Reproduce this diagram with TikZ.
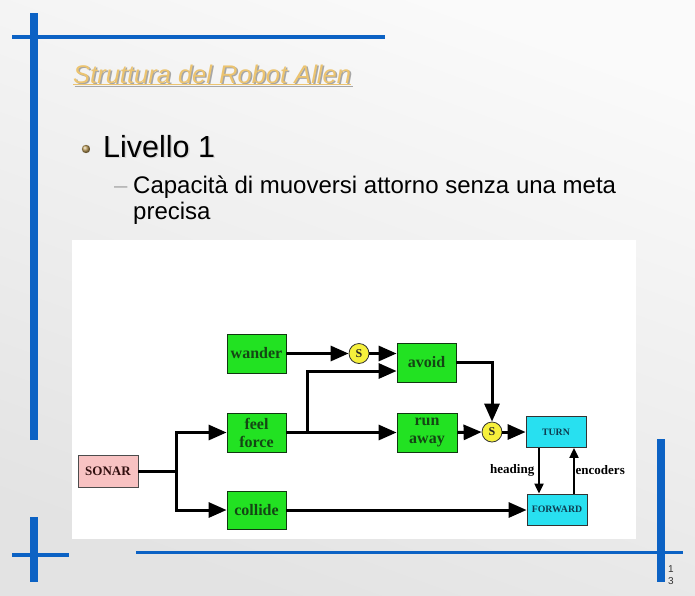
\documentclass[tikz,border=0pt]{standalone}
\usepackage{fontspec}
\setmainfont{Liberation Serif}
\newfontfamily\arialf{Liberation Sans}
\usetikzlibrary{arrows.meta,shadings}
\definecolor{slideblue}{RGB}{12,98,196}
\definecolor{titlegold}{RGB}{236,196,112}
\definecolor{boxgreen}{RGB}{34,226,34}
\definecolor{greentext}{RGB}{20,70,20}
\definecolor{boxcyan}{RGB}{40,224,240}
\definecolor{cyantext}{RGB}{14,60,80}
\definecolor{sonarpink}{RGB}{248,194,194}
\definecolor{sonartext}{RGB}{50,16,16}
\definecolor{sumyellow}{RGB}{246,240,60}
\tikzset{
  gbox/.style={draw=greentext!80!black, line width=0.8pt, fill=boxgreen, text=greentext,
    minimum width=59pt, minimum height=39pt, inner sep=0pt, align=center,
    font=\fontsize{16}{18}\selectfont\bfseries},
  cbox/.style={draw=black!80, line width=0.8pt, fill=boxcyan, text=cyantext,
    minimum width=60pt, minimum height=31pt, inner sep=0pt,
    font=\fontsize{9.8}{11}\selectfont\bfseries},
  sbox/.style={draw=black!70, line width=0.8pt, fill=sonarpink, text=sonartext,
    minimum width=60pt, minimum height=32pt, inner sep=0pt,
    font=\fontsize{13}{14}\selectfont\bfseries},
  sumnode/.style={circle, draw=black!80, line width=0.8pt, fill=sumyellow, text=black!85,
    minimum size=20pt, inner sep=0pt, font=\fontsize{12}{13}\selectfont\bfseries},
  arr/.style={line width=3pt, line join=miter, -{Triangle[length=18pt,width=15pt]}},
  plain/.style={line width=3pt, line join=miter},
  arrs/.style={line width=2pt, -{Triangle[length=10pt,width=9pt]}},
  lbl/.style={inner sep=0pt, font=\fontsize{13}{14}\selectfont\bfseries},
  bluebar/.style={fill=slideblue},
  slidetext/.style={anchor=base west, inner sep=0pt},
}
\begin{document}
\begin{tikzpicture}[x=1pt,y=-1pt]
\useasboundingbox (0,0) rectangle (695,595);
% background
\shade[shading=axis, top color=white!98!black, bottom color=white!89!black, shading angle=-20]
  (0,0) rectangle (695,595);
% slide decoration
\fill[bluebar] (30,13) rectangle (38,440);
\fill[bluebar] (12,35) rectangle (385,38.5);
\fill[bluebar] (30,517) rectangle (38,582);
\fill[bluebar] (12,553) rectangle (69,556.5);
\fill[bluebar] (136,550.5) rectangle (683,554);
\fill[bluebar] (657,439) rectangle (665,582);
\node[anchor=west, inner sep=0pt, font=\arialf\fontsize{10}{12}\selectfont, text=black!80, align=left]
  (pnum) at (668,575) {1\\3};
% title
\node[slidetext, text=black!35, font=\arialf\itshape\fontsize{25.5}{28}\selectfont]
  (titleshadow) at (74.5,84.5) {\underline{Struttura del Robot Allen}};
\node[slidetext, text=titlegold, font=\arialf\itshape\fontsize{25.5}{28}\selectfont]
  (title) at (73,83) {\underline{Struttura del Robot Allen}};
% bullet
\shade[ball color=titlegold!80!black] (86,149) circle (4.2);
\node[slidetext, text=black!15, font=\arialf\fontsize{30.5}{33}\selectfont]
  (l1s) at (104.5,158.5) {Livello 1};
\node[slidetext, font=\arialf\fontsize{30.5}{33}\selectfont]
  (l1) at (103,157) {Livello 1};
\node[slidetext, text=black!30, font=\arialf\fontsize{24}{26}\selectfont]
  (dash) at (114,193) {–};
\node[slidetext, font=\arialf\fontsize{24}{26}\selectfont]
  (sub1) at (133,193) {Capacità di muoversi attorno senza una meta};
\node[slidetext, font=\arialf\fontsize{24}{26}\selectfont]
  (sub2) at (133,219) {precisa};
% diagram panel
\fill[white] (72,240) rectangle (636,539);
% nodes
\node[gbox] (wander) at (256.5,353.5) {wander};
\node[gbox] (feel) at (256.5,432.5) {feel\\force};
\node[gbox, minimum height=38pt] (collide) at (256.5,510) {collide};
\node[sbox] (sonar) at (108,471) {SONAR};
\node[gbox] (avoid) at (426.5,362.5) {avoid};
\node[gbox, minimum width=60pt] (runaway) at (427,432.5) {run\\away};
\node[sumnode] (s1) at (359,353.5) {S};
\node[sumnode] (s2) at (492,432) {S};
\node[cbox] (turn) at (556,432) {TURN};
\node[cbox] (forward) at (557,509.5) {FORWARD};
% connectors
\coordinate (split) at (176,471);
\coordinate (fb) at (307,432.5);
\coordinate (ft) at (307,371);
\coordinate (hx) at (539,470);
\coordinate (ex) at (574,470);
\draw[arr] (wander.east) -- (s1.west);
\draw[arr] (s1.east) -- (s1.east -| avoid.west);
\draw[arr] (feel.east) -- (runaway.west);
\draw[arr] (fb) -- (ft) -- (ft -| avoid.west);
\draw[arr] (avoid.east) -| (s2.north);
\draw[arr] (runaway.east) -- (s2.west);
\draw[arr] (s2.east) -- (turn.west);
\draw[plain] (sonar.east) -- (split);
\draw[arr] (split) |- (feel.west);
\draw[arr] (split) |- (collide.west);
\draw[arr] (collide.east) -- (collide.east -| forward.west);
\draw[arrs] (turn.south -| hx) -- (forward.north -| hx);
\draw[arrs] (forward.north -| ex) -- (turn.south -| ex);
\node[lbl, anchor=east] (heading) at (534.5,470) {heading};
\node[lbl, anchor=west] (encoders) at (575.5,470) {encoders};
\end{tikzpicture}
\end{document}
